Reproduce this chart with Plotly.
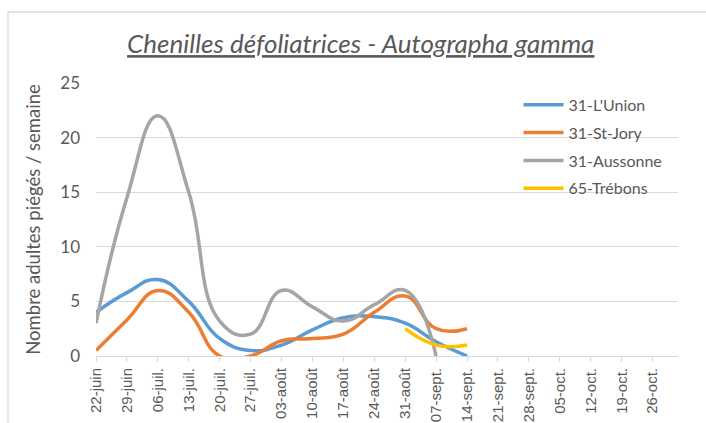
import plotly.graph_objects as go

# Weekly trap dates (ISO) and series values
dates = ["2020-06-22", "2020-06-29", "2020-07-06", "2020-07-13", "2020-07-20",
         "2020-07-27", "2020-08-03", "2020-08-10", "2020-08-17", "2020-08-24",
         "2020-08-31", "2020-09-07", "2020-09-14"]
lunion = [4, 5.8, 7, 5, 1.6, 0.5, 1.0, 2.4, 3.5, 3.6, 3.0, 1.3, 0]
stjory = [0.5, 3.3, 6, 4, 0, 0, 1.4, 1.6, 2, 4, 5.5, 2.5, 2.5]
aussonne = [3, 14.5, 22, 15, 3.2, 2.0, 6, 4.5, 3.2, 4.7, 6, 0, None]
trebons = [None] * 10 + [2.5, 1.0, 1.0]

series_names = ["31-L'Union", "31-St-Jory", "31-Aussonne", "65-Trébons"]
series_values = [lunion, stjory, aussonne, trebons]
colors = ["#5B9BD5", "#ED7D31", "#A5A5A5", "#FFC000"]

tick_dates = ["2020-06-22", "2020-06-29", "2020-07-06", "2020-07-13", "2020-07-20",
              "2020-07-27", "2020-08-03", "2020-08-10", "2020-08-17", "2020-08-24",
              "2020-08-31", "2020-09-07", "2020-09-14", "2020-09-21", "2020-09-28",
              "2020-10-05", "2020-10-12", "2020-10-19", "2020-10-26"]
tick_labels = ["22-juin", "29-juin", "06-juil.", "13-juil.", "20-juil.", "27-juil.",
               "03-août", "10-août", "17-août", "24-août", "31-août", "07-sept.",
               "14-sept.", "21-sept.", "28-sept.", "05-oct.", "12-oct.", "19-oct.",
               "26-oct."]

TXT = "#595959"
GRID = "#D9D9D9"

fig = go.Figure()
for name, vals, col in zip(series_names, series_values, colors):
    fig.add_trace(go.Scatter(
        x=dates, y=vals, name=name, mode="lines", legendgroup=name,
        line=dict(color=col, width=3.5, shape="spline", smoothing=1.3),
        connectgaps=False, cliponaxis=True,
    ))

fig.update_layout(
    width=706, height=423,
    margin=dict(l=96, r=28, t=83, b=67),
    paper_bgcolor="white", plot_bgcolor="white",
    font=dict(family="Lato, Liberation Sans, sans-serif", color=TXT),
    title=dict(
        text="<i><u>Chenilles défoliatrices - Autographa gamma</u></i>",
        x=0.511, xanchor="center", xref="container", y=0.896, yanchor="middle",
        font=dict(size=26, color=TXT, family="Lato, sans-serif"),
    ),
    showlegend=True,
    legend=dict(
        x=0.726, y=0.982, xanchor="left", yanchor="top",
        bgcolor="rgba(0,0,0,0)", font=dict(size=16, color=TXT),
        itemwidth=40, tracegroupgap=4,
    ),
    xaxis=dict(
        type="date", range=["2020-06-22", "2020-10-31 18:00"], automargin=False,
        tickmode="array", tickvals=tick_dates, ticktext=tick_labels,
        tickangle=-90, tickfont=dict(size=15, color=TXT, family="Liberation Sans, Arial"),
        showgrid=False, showline=True, linecolor=GRID, linewidth=1,
        ticks="outside", ticklen=5, tickcolor=GRID, zeroline=False,
    ),
    yaxis=dict(
        range=[0, 25], tickvals=[0, 5, 10, 15, 20, 25], automargin=False,
        tickfont=dict(size=17, color=TXT), showgrid=True, gridcolor=GRID,
        gridwidth=1, zeroline=False, showline=False, ticks="", ticklabelstandoff=15,
        title=dict(text="Nombre adultes piégés / semaine", font=dict(size=18.5, color=TXT), standoff=14),
    ),
    shapes=[dict(type="rect", xref="paper", yref="paper",
                 x0=-0.1512, x1=1.06, y0=-0.28, y1=1.26,
                 line=dict(color=GRID, width=1.3), fillcolor="rgba(0,0,0,0)", layer="below")],
)

fig.write_html("out.html", config={"displayModeBar": False},
               post_script="document.body.style.margin='0';document.body.style.overflow='hidden';")
